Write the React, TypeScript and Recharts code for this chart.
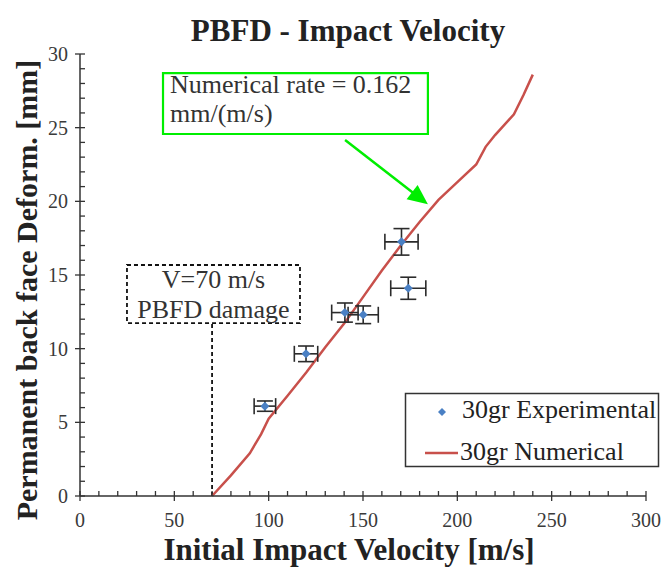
import React from 'react'
import {
  ComposedChart,
  XAxis,
  YAxis,
  Line,
  Scatter,
  ErrorBar,
  ReferenceArea,
  ReferenceLine,
} from 'recharts'

// experimental points (30gr)
const expVelocity = [98, 119.8, 140.4, 150.1, 170.4, 174]
const expDeform = [6.1, 9.65, 12.45, 12.3, 17.25, 14.1]
const expVelocityErr = [5.7, 6.2, 7, 8, 8.8, 9.3]
const expDeformErr = [0.35, 0.53, 0.65, 0.6, 0.9, 0.75]

// numerical curve (30gr)
const numVelocity = [70, 80, 90, 96, 100, 110, 120, 130, 140, 150, 160, 170, 180, 190, 200, 210, 215, 220, 230, 235, 240]
const numDeform = [0, 1.4, 2.9, 4.2, 5.25, 6.8, 8.4, 10.1, 11.7, 13.5, 15.3, 17.0, 18.6, 20.1, 21.3, 22.5, 23.7, 24.5, 25.9, 27.2, 28.6]

const xTicks = [0, 10, 20, 30, 40, 50, 60, 70, 80, 90, 100, 110, 120, 130, 140, 150, 160, 170, 180, 190, 200, 210, 220, 230, 240, 250, 260, 270, 280, 290, 300]
const yTicks = [0, 1, 2, 3, 4, 5, 6, 7, 8, 9, 10, 11, 12, 13, 14, 15, 16, 17, 18, 19, 20, 21, 22, 23, 24, 25, 26, 27, 28, 29, 30]
const xMajorTicks = [0, 50, 100, 150, 200, 250, 300]
const yMajorTicks = [0, 5, 10, 15, 20, 25, 30]

const SERIF = "'Liberation Serif', 'Times New Roman', serif"
const AXIS = '#333'
const TICK_TEXT = '#3a3a3a'
const BLUE = '#4a80c4'
const RED = '#c8504b'
const GREEN = '#00ee00'

const expData = expVelocity.map((x, i) => ({
  x,
  y: expDeform[i],
  ex: expVelocityErr[i],
  ey: expDeformErr[i],
}))
const numData = numVelocity.map((x, i) => ({ x, y: numDeform[i] }))

function XTick({ x, y, payload }: any) {
  const major = xMajorTicks.includes(payload.value)
  return (
    <g>
      <line x1={x} x2={x} y1={y - 5} y2={major ? y + 5 : y} stroke={AXIS} strokeWidth={1.3} />
      {major && (
        <text x={x} y={y + 31} textAnchor="middle" fontSize={20} fill={TICK_TEXT} fontFamily={SERIF}>
          {payload.value}
        </text>
      )}
    </g>
  )
}

function YTick({ x, y, payload }: any) {
  const major = yMajorTicks.includes(payload.value)
  return (
    <g>
      <line x1={major ? x - 5 : x} x2={x + 5} y1={y} y2={y} stroke={AXIS} strokeWidth={1.3} />
      {major && (
        <text x={x - 12} y={y} dy="0.35em" textAnchor="end" fontSize={20} fill={TICK_TEXT} fontFamily={SERIF}>
          {payload.value}
        </text>
      )}
    </g>
  )
}

function Diamond({ cx, cy }: any) {
  const r = 4.5
  return <polygon points={`${cx},${cy - r} ${cx + r},${cy} ${cx},${cy + r} ${cx - r},${cy}`} fill={BLUE} />
}

function Arrow({ x1, y1, x2, y2 }: any) {
  const dx = x2 - x1
  const dy = y2 - y1
  const len = Math.sqrt(dx * dx + dy * dy)
  const ux = dx / len
  const uy = dy / len
  const bx = x2 - ux * 20
  const by = y2 - uy * 20
  const px = -uy * 9
  const py = ux * 9
  return (
    <g>
      <line x1={x1} y1={y1} x2={bx + ux * 2} y2={by + uy * 2} stroke={GREEN} strokeWidth={2.5} />
      <polygon points={`${x2},${y2} ${bx + px},${by + py} ${bx - px},${by - py}`} fill={GREEN} />
    </g>
  )
}

const rateLabel = (props: any) => {
  const { x, y } = props.viewBox
  return (
    <g fontFamily={SERIF} fontSize={26} fill="#333">
      <text x={x + 7} y={y + 20}>Numerical rate = 0.162</text>
      <text x={x + 7} y={y + 49}>mm/(m/s)</text>
    </g>
  )
}

const damageLabel = (props: any) => {
  const { x, y, width } = props.viewBox
  return (
    <g fontFamily={SERIF} fontSize={26} fill="#333" textAnchor="middle">
      <text x={x + width / 2} y={y + 23}>V=70 m/s</text>
      <text x={x + width / 2} y={y + 53}>PBFD damage</text>
    </g>
  )
}

export default function App() {
  return (
    <div style={{ position: 'absolute', left: 0, top: 0, width: 669, height: 568, background: '#fff' }}>
      <ComposedChart width={669} height={568} margin={{ top: 54, right: 23, bottom: 42, left: 20 }}>
        <XAxis
          type="number"
          dataKey="x"
          domain={[0, 300]}
          ticks={xTicks}
          interval={0}
          tickSize={0}
          tickMargin={0}
          tick={<XTick />}
          tickLine={false}
          axisLine={{ stroke: AXIS, strokeWidth: 1.5 }}
          height={30}
        />
        <YAxis
          type="number"
          dataKey="y"
          domain={[0, 30]}
          ticks={yTicks}
          interval={0}
          tickSize={0}
          tickMargin={0}
          tick={<YTick />}
          tickLine={false}
          axisLine={{ stroke: AXIS, strokeWidth: 1.5 }}
          width={60}
        />
        <ReferenceArea
          x1={44}
          x2={184.4}
          y1={24.57}
          y2={28.7}
          fill="none"
          stroke={GREEN}
          strokeWidth={2.2}
          label={rateLabel}
        />
        <ReferenceLine
          segment={[{ x: 140.5, y: 24.16 }, { x: 184.4, y: 19.8 }]}
          shape={(p: any) => <Arrow {...p} />}
        />
        <ReferenceArea
          x1={24.9}
          x2={116.6}
          y1={11.74}
          y2={15.68}
          fill="none"
          stroke="#111"
          strokeWidth={1.8}
          strokeDasharray="4 3"
          label={damageLabel}
        />
        <ReferenceLine
          segment={[{ x: 70, y: 0 }, { x: 70, y: 11.74 }]}
          stroke="#111"
          strokeWidth={1.8}
          strokeDasharray="4 3"
        />
        <Line
          data={numData}
          dataKey="y"
          type="linear"
          stroke={RED}
          strokeWidth={2.5}
          dot={false}
          isAnimationActive={false}
        />
        <Scatter data={expData} dataKey="y" shape={<Diamond />} isAnimationActive={false}>
          <ErrorBar dataKey="ex" direction="x" width={8} stroke="#2b2b2b" strokeWidth={1.6} isAnimationActive={false} />
          <ErrorBar dataKey="ey" direction="y" width={8} stroke="#2b2b2b" strokeWidth={1.6} isAnimationActive={false} />
        </Scatter>
      </ComposedChart>
      <svg
        width={669}
        height={568}
        style={{ position: 'absolute', left: 0, top: 0, pointerEvents: 'none' }}
        fontFamily={SERIF}
      >
        <text x={348} y={41} textAnchor="middle" fontSize={31} fontWeight="bold" fill="#222">
          PBFD - Impact Velocity
        </text>
        <text x={349} y={560} textAnchor="middle" fontSize={31} fontWeight="bold" fill="#222">
          Initial Impact Velocity [m/s]
        </text>
        <text
          x={37}
          y={290}
          textAnchor="middle"
          fontSize={30}
          fontWeight="bold"
          fill="#222"
          transform="rotate(-90, 37, 290)"
        >
          Permanent back face Deform. [mm]
        </text>
        <rect x={405.5} y={393.5} width={253} height={73} fill="#fff" stroke="#333" strokeWidth={1.5} />
        <polygon points="442,408 446,412 442,416 438,412" fill={BLUE} />
        <text x={462} y={418} fontSize={26} fill="#222">30gr Experimental</text>
        <line x1={425} x2={458} y1={453} y2={453} stroke={RED} strokeWidth={2.5} />
        <text x={460} y={460} fontSize={26} fill="#222">30gr Numerical</text>
      </svg>
    </div>
  )
}
